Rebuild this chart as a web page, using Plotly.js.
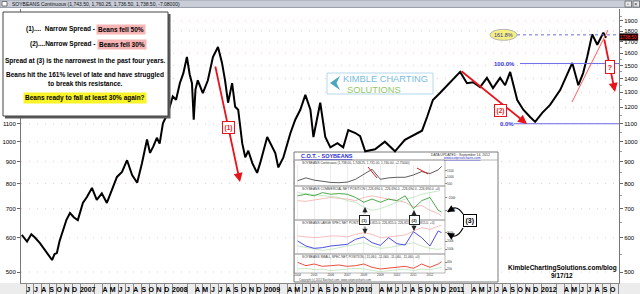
<!DOCTYPE html>
<html><head><meta charset="utf-8">
<script src="https://cdn.plot.ly/plotly-3.0.1.min.js"></script>
<style>html,body{margin:0;padding:0;background:#fff}#chart{width:640px;height:294px}</style>
</head><body><div id="chart"></div>
<script>
// ---------- DATA ----------
const priceDates = ['2006-05-15','2006-06-05','2006-06-22','2006-07-07','2006-07-26','2006-08-15','2006-09-04','2006-09-12','2006-09-22','2006-10-01','2006-10-12','2006-10-25','2006-11-08','2006-11-22','2006-12-08','2006-12-23',
'2007-01-12','2007-01-28','2007-02-17','2007-03-08','2007-03-28','2007-04-17','2007-05-07','2007-05-27','2007-06-16','2007-07-06','2007-07-26','2007-08-15','2007-09-03','2007-09-23','2007-10-05','2007-10-18','2007-11-01','2007-11-12','2007-11-25','2007-12-15',
'2008-01-03','2008-01-16','2008-01-31','2008-02-14','2008-02-28','2008-03-10','2008-03-19','2008-03-26','2008-04-02','2008-04-11','2008-05-01','2008-05-21','2008-06-10','2008-06-30','2008-07-16','2008-07-28','2008-08-09','2008-08-25','2008-09-06','2008-09-18','2008-10-04','2008-10-16','2008-10-28','2008-11-13','2008-12-02','2008-12-14',
'2009-01-11','2009-01-23','2009-02-12','2009-02-24','2009-03-16','2009-04-13','2009-05-02','2009-05-22','2009-06-11','2009-07-01','2009-07-13','2009-08-09','2009-08-29','2009-09-18','2009-10-16','2009-11-08','2009-11-28','2009-12-26',
'2010-01-14','2010-02-03','2010-03-14','2010-04-22','2010-06-01','2010-07-10','2010-08-19','2010-09-16','2010-10-06','2010-10-29','2010-11-26','2010-12-15',
'2011-01-05','2011-02-14','2011-03-13','2011-04-06','2011-05-04','2011-05-31','2011-06-24','2011-07-22','2011-08-11','2011-08-31','2011-09-28','2011-10-22','2011-11-18','2011-12-08',
'2012-01-05','2012-02-05','2012-03-16','2012-04-10','2012-05-03','2012-05-27','2012-06-15','2012-07-01','2012-07-21','2012-08-10','2012-09-03','2012-09-14'];
const priceClose = [609,588,611,600,583,560,541,533,550,553,590,625,660,684,668,659,
722,745,782,734,760,722,774,829,851,906,837,804,892,1012,942,975,1021,990,1103,1166,
1272,1250,1365,1440,1569,1430,1365,1124,1320,1386,1295,1386,1569,1655,1520,1386,1230,1365,1204,1185,992,920,953,892,847,892,
1025,992,941,872,920,1047,1124,1185,1283,1185,1025,1230,1025,970,992,970,1064,1047,
1030,950,960,1000,950,1010,1040,1060,1140,1248,1295,1330,
1372,1449,1365,1372,1336,1404,1330,1404,1350,1449,1248,1185,1140,1111,
1166,1216,1316,1420,1520,1350,1440,1569,1770,1674,1785,1738.5];

const monthLetters = ['J','F','M','A','M','J','J','A','S','O','N','D'];
const rightTicks = [500,600,700,800,900,1000,1100,1200,1300,1400,1500,1600,1700,1800,1900];
const leftTicks = [500,600,700,800,900,1000,1100];
const fibLevels = [1100, 1515, 1765];
const fibLabels = ['0.0%', '100.0%', '161.8%'];
const lastPriceLabel = '1738.50';

// C.O.T. inset (read approximately)
const cotYears = [2004.0,2004.5,2005.0,2005.5,2006.0,2006.5,2007.0,2007.5,2008.0,2008.5,2009.0,2009.5,2010.0,2010.5,2011.0,2011.5,2012.0,2012.5,2012.7];
const cotPrice = [720,940,764,676,588,566,610,830,1204,1600,830,940,984,984,1160,1424,1270,1556,1820];
const cotCommercial = [-175000,-150000,-175000,-125000,-150000,-140000,-150000,-200000,-275000,-225000,-275000,-225000,-250000,-175000,-375000,-250000,-200000,-400000,-425000];
const cotCommHigh = [-250000,-260000,-240000,-225000,-200000,-215000,-225000,-250000,-200000,-175000,-200000,-225000,-250000,-275000,-350000,-325000,-400000,-450000,-490000];
const cotCommLow = [-125000,-140000,-150000,-160000,-175000,-200000,-250000,-275000,-350000,-400000,-375000,-325000,-275000,-225000,-200000,-150000,-125000,-100000,-90000];
const cotLarge = [200000,140000,112000,120000,140000,148000,160000,220000,248000,180000,148000,240000,168000,152000,312000,240000,140000,320000,300000];
const cotLargeHigh = [260000,248000,240000,248000,260000,260000,248000,280000,300000,280000,240000,248000,260000,272000,320000,360000,340000,380000,392000];
const cotLargeLow = [140000,120000,100000,88000,100000,120000,140000,160000,180000,140000,112000,120000,140000,160000,180000,140000,112000,100000,112000];
const cotSmall = [40000,30000,35000,28000,30000,32000,28000,30000,35000,25000,20000,22000,25000,28000,22000,35000,25000,35000,42000];
const cotSmallBand = [20000,22000,18000,20000,15000,17000,20000,22000,20000,15000,12000,15000,18000,20000,15000,20000,18000,22000,25000];
const cotYearTicks = [2004,2005,2006,2007,2008,2009,2010,2011,2012];

// ---------- helpers ----------
const F = 'Liberation Sans, Arial, sans-serif';
const W = 640, H = 294, ML = 21, MR = 21, MT = 9, MB = 11;
const PW = W - ML - MR, PH = H - MT - MB;
const PX = x => (x - ML) / PW;
const PY = y => (H - MB - y) / PH;
const LLO = Math.log10(471.6), LHI = Math.log10(2025);
const PV = v => (Math.log10(v) - LLO) / (LHI - LLO);
const pad = n => (n < 10 ? '0' : '') + n;

// x-axis month labels and separators
const tv = [], tt = [], sep = [];
for (let y = 2006; y <= 2012; y++) {
  for (let m = 1; m <= 12; m++) {
    if (m !== 2) sep.push(`${y}-${pad(m)}-01`);
    if (m === 1) { tv.push(`${y}-01-31`); tt.push(String(y)); }
    else if (m === 2 || m === 3) { }
    else { tv.push(`${y}-${pad(m)}-10`); tt.push(monthLetters[m - 1]); }
  }
}
const minorY = [];
for (let v = 550; v <= 1950; v += 100) minorY.push(v);

// ---------- traces ----------
const traces = [
  {x: priceDates, y: priceClose, type: 'scatter', mode: 'lines', line: {color: '#000', width: 2}, xaxis: 'x', yaxis: 'y', hoverinfo: 'skip'},
  {x: [priceDates[0]], y: [priceClose[0]], type: 'scatter', mode: 'markers', marker: {opacity: 0}, xaxis: 'x', yaxis: 'y2', hoverinfo: 'skip'},
  {x: cotYears, y: cotPrice, type: 'scatter', mode: 'lines', line: {color: '#333', width: 0.8}, xaxis: 'x2', yaxis: 'y3', hoverinfo: 'skip'},
  {x: cotYears, y: cotCommHigh, type: 'scatter', mode: 'lines', line: {color: '#f4a0a0', width: 0.7}, xaxis: 'x2', yaxis: 'y4', hoverinfo: 'skip'},
  {x: cotYears, y: cotCommLow, type: 'scatter', mode: 'lines', line: {color: '#b0dcb0', width: 0.7}, xaxis: 'x2', yaxis: 'y4', hoverinfo: 'skip'},
  {x: cotYears, y: cotCommercial, type: 'scatter', mode: 'lines', line: {color: '#3aa03a', width: 0.9}, xaxis: 'x2', yaxis: 'y4', hoverinfo: 'skip'},
  {x: cotYears, y: cotLargeHigh, type: 'scatter', mode: 'lines', line: {color: '#f4a0a0', width: 0.7}, xaxis: 'x2', yaxis: 'y5', hoverinfo: 'skip'},
  {x: cotYears, y: cotLargeLow, type: 'scatter', mode: 'lines', line: {color: '#b0dcb0', width: 0.7}, xaxis: 'x2', yaxis: 'y5', hoverinfo: 'skip'},
  {x: cotYears, y: cotLarge, type: 'scatter', mode: 'lines', line: {color: '#3a3ae0', width: 0.9}, xaxis: 'x2', yaxis: 'y5', hoverinfo: 'skip'},
  {x: cotYears, y: cotSmallBand, type: 'scatter', mode: 'lines', line: {color: '#b0dcb0', width: 0.7}, xaxis: 'x2', yaxis: 'y6', hoverinfo: 'skip'},
  {x: cotYears, y: cotSmall, type: 'scatter', mode: 'lines', line: {color: '#e83a2a', width: 0.9}, xaxis: 'x2', yaxis: 'y6', hoverinfo: 'skip'}
];

// ---------- shapes ----------
const red = '#e8141c';
const rectPx = (x0, y0, x1, y1, o) => Object.assign({type: 'rect', xref: 'paper', yref: 'paper', x0: PX(x0), x1: PX(x1), y0: PY(y0), y1: PY(y1), layer: 'above', line: {width: 0}}, o);
const linePx = (x0, y0, x1, y1, o) => Object.assign({type: 'line', xref: 'paper', yref: 'paper', x0: PX(x0), x1: PX(x1), y0: PY(y0), y1: PY(y1), layer: 'above'}, o);

// faint dotted price grid (drawn underneath everything)
const gridShapes = rightTicks.map(v => ({type: 'line', xref: 'paper', yref: 'paper', x0: 0, x1: 1, y0: PV(v), y1: PV(v), layer: 'below',
  line: {color: '#f2c8c8', width: 1, dash: '1px,7px'}}));

const shapes = gridShapes.concat([
  // header bar
  rectPx(0, 0, 640, 7.5, {fillcolor: '#c8cdd8', line: {color: '#9aa0ac', width: 1}, layer: 'below'}),
  rectPx(2, 1.5, 7, 6, {fillcolor: '#fff', line: {color: '#555', width: 0.8}, layer: 'below'}),
  rectPx(625, 1, 631.5, 7, {fillcolor: '#e8e8e8', line: {color: '#666', width: 0.8}, layer: 'below'}),
  rectPx(633, 1, 639.5, 7, {fillcolor: '#e8e8e8', line: {color: '#666', width: 0.8}, layer: 'below'}),
  // bottom label strip
  rectPx(0, 283, 640, 294, {fillcolor: '#ececec', layer: 'below'}),
  // inset background (under the main price line, over the grid)
  rectPx(294, 152, 498, 282, {fillcolor: '#fff', line: {color: '#7a7a7a', width: 1}, layer: 'below'}),
  // text box shadow + box
  rectPx(5, 14, 170.5, 118.5, {fillcolor: '#5a5a5a'}),
  rectPx(3, 12, 168, 116, {fillcolor: '#fff', line: {color: '#444', width: 1}}),
  // Kimble logo
  rectPx(327, 73, 433, 94, {fillcolor: '#fff', line: {color: '#b4d8ec', width: 1}}),
  {type: 'path', xref: 'paper', yref: 'paper', layer: 'above', fillcolor: '#4aa6bc', line: {width: 0},
   path: `M ${PX(340)},${PY(76)} L ${PX(330)},${PY(83)} L ${PX(340)},${PY(90)} L ${PX(336.5)},${PY(83)} Z`},
  // fibonacci lines
  {type: 'line', xref: 'paper', yref: 'paper', x0: PX(517), x1: 1, y0: PV(fibLevels[2]), y1: PV(fibLevels[2]), layer: 'above', line: {color: '#6a6ae8', width: 1, dash: 'dot'}},
  {type: 'line', xref: 'paper', yref: 'paper', x0: PX(520), x1: 1, y0: PV(fibLevels[1]), y1: PV(fibLevels[1]), layer: 'above', line: {color: '#6a6ae8', width: 1}},
  {type: 'line', xref: 'paper', yref: 'paper', x0: PX(514), x1: 1, y0: PV(fibLevels[0]), y1: PV(fibLevels[0]), layer: 'above', line: {color: '#6a6ae8', width: 1}},
  {type: 'circle', xref: 'paper', yref: 'paper', x0: PX(490), x1: PX(517), y0: PV(fibLevels[2]) - 5.5 / PH, y1: PV(fibLevels[2]) + 5.5 / PH, layer: 'above', fillcolor: '#f6f080', line: {color: '#b4b4b4', width: 1}},
  // red trendline
  linePx(572, 102, 608, 30, {line: {color: '#ff5a5a', width: 1}}),
  // price marker box
  rectPx(619.5, 33.5, 638, 40.5, {fillcolor: '#1c0000', line: {color: '#555', width: 0.5}}),
  // inset title separator and panel frames
  linePx(294, 160, 498, 160, {line: {color: '#999', width: 0.7}}),
  rectPx(294.5, 160, 445, 186, {line: {color: '#999', width: 0.7}}),
  rectPx(294.5, 186, 445, 220, {line: {color: '#999', width: 0.7}}),
  rectPx(294.5, 220, 445, 254, {line: {color: '#999', width: 0.7}}),
  rectPx(294.5, 254, 445, 273, {line: {color: '#999', width: 0.7}}),
  // small red arrows in inset price panel
  linePx(368, 167, 377, 178, {line: {color: red, width: 1}}),
  linePx(417, 168, 428, 174, {line: {color: red, width: 1}}),
  // (3) curves
  {type: 'path', xref: 'paper', yref: 'paper', layer: 'above', line: {color: '#000', width: 1.2},
   path: `M ${PX(463)},${PY(214)} Q ${PX(456)},${PY(203)} ${PX(448)},${PY(212)}`},
  {type: 'path', xref: 'paper', yref: 'paper', layer: 'above', line: {color: '#000', width: 1.2},
   path: `M ${PX(463)},${PY(228)} Q ${PX(456)},${PY(241)} ${PX(448)},${PY(233)}`}
]);

// ---------- annotations ----------
const T = (x, y, text, o) => Object.assign({xref: 'paper', yref: 'paper', x: PX(x), y: PY(y), text, showarrow: false,
  xanchor: 'center', yanchor: 'middle', font: {family: F, size: 6.5, color: '#000'}}, o || {});
const ARW = (hx, hy, tx, ty, o) => Object.assign({xref: 'paper', yref: 'paper', x: PX(hx), y: PY(hy), ax: tx - hx, ay: ty - hy,
  axref: 'pixel', ayref: 'pixel', text: '', showarrow: true, arrowhead: 2, arrowsize: 1, arrowwidth: 1.8, arrowcolor: red, standoff: 0, startstandoff: 0}, o || {});
const BOX = (x, y, text, col, size) => T(x, y, '<b>' + text + '</b>', {font: {family: F, size: size, color: col}, bgcolor: '#fff', bordercolor: col, borderwidth: 1, borderpad: 1.5});

const annotations = [
  // header text
  T(10, 3.8, 'SOYBEANS Continuous (1,743.50, 1,760.25, 1,736.50, 1,738.50, -7.08000)', {xanchor: 'left', font: {family: F, size: 5, color: '#111'}}),
  T(628.2, 3.8, '▫', {font: {family: F, size: 5, color: '#333'}}),
  T(636.2, 3.8, '×', {font: {family: F, size: 6, color: '#333'}}),
  // text box
  T(96, 29, '<b>(1)....  Narrow Spread -</b>', {xanchor: 'right', borderpad: 0}),
  T(96, 29, '<b>Beans fell 50%</b>', {xanchor: 'left', bgcolor: '#f6b4b4', borderpad: 1}),
  T(96, 44.5, '<b>(2)....Narrow Spread -</b>', {xanchor: 'right', borderpad: 0}),
  T(97, 44.5, '<b>Beans fell 30%</b>', {xanchor: 'left', bgcolor: '#f6b4b4', borderpad: 1}),
  T(85, 61, '<b>Spread at (3) is the narrowest in the past four years.</b>'),
  T(85, 75, '<b>Beans hit the 161% level of late and have struggled</b>'),
  T(85, 83.5, '<b>to break this resistance.</b>'),
  T(85, 98.5, '<b>Beans ready to fall at least 30% again?</b>', {bgcolor: '#f8f428', borderpad: 1}),
  // Kimble logo
  T(341, 79.2, 'KIMBLE CHARTING', {xanchor: 'left', font: {family: F, size: 9.3, color: '#78bcdc'}}),
  T(345, 89.6, 'SOLUTIONS', {xanchor: 'left', font: {family: F, size: 9.3, color: '#90c868'}}),
  // fib labels
  T(503.5, 34.5, fibLabels[2], {y: PV(fibLevels[2]), font: {family: F, size: 5.5, color: '#303090'}}),
  T(504, 0, '<b>' + fibLabels[1] + '</b>', {y: PV(fibLevels[1]), font: {family: F, size: 6, color: '#3434d8'}}),
  T(507, 0, '<b>' + fibLabels[0] + '</b>', {y: PV(fibLevels[0]), font: {family: F, size: 6, color: '#3434d8'}}),
  // red arrows
  ARW(240, 182, 215, 65),
  ARW(527, 124, 460, 70),
  ARW(615, 92, 604, 38),
  BOX(228, 127, '(1)', red, 6.5),
  BOX(500, 110, '(2)', red, 6.5),
  BOX(610, 67, '?', red, 7.5),
  // price marker
  T(628.7, 37, lastPriceLabel, {font: {family: F, size: 4.6, color: '#ff3a3a'}}),
  // bottom right text
  T(562, 268, '<b>KimbleChartingSolutions.com/blog</b>', {font: {family: F, size: 6.5, color: '#000'}}),
  T(562, 275.5, '<b>9/17/12</b>', {font: {family: F, size: 6.5, color: '#000'}}),
  // inset texts
  T(299, 156.5, '<b><u>C.O.T. - SOYBEANS</u></b>', {xanchor: 'left', font: {family: F, size: 5.5, color: '#2a2ad0'}}),
  T(460, 154.5, 'DATA UPDATED : September 14, 2012', {font: {family: F, size: 3.4, color: '#333'}}),
  T(462, 158.2, '<u>www.cotpricecharts.com</u>', {font: {family: F, size: 3.4, color: '#2a2ad0'}}),
  T(300, 163, 'SOYBEANS Continuous (1,738.00, 1,748.25, 1,731.00, 1,740.00, +2.75000)', {xanchor: 'left', font: {family: F, size: 3.2, color: '#333'}}),
  T(300, 189, 'SOYBEANS COMMERCIAL NET POSITION (-226,694.0, -226,694.0, -226,694.0, -226,694.0, +0)', {xanchor: 'left', font: {family: F, size: 3.2, color: '#333'}}),
  T(300, 223, 'SOYBEANS LARGE SPEC NET POSITION (226,815.0, 226,815.0, 226,815.0, 226,815.0, +0)', {xanchor: 'left', font: {family: F, size: 3.2, color: '#333'}}),
  T(300, 257, 'SOYBEANS SMALL SPEC NET POSITION (-11,060, -11,060, -11,060, -11,060, +0)', {xanchor: 'left', font: {family: F, size: 3.2, color: '#333'}}),
  T(297, 280, 'Copyright (c) 2012 Barchart.com, www.cotpricecharts.com', {xanchor: 'left', font: {family: F, size: 2.8, color: '#444'}}),
  // inset (1),(2) markers
  ARW(365, 207, 365, 215, {arrowwidth: 0.8, arrowcolor: '#222', arrowsize: 1.3}),
  ARW(365, 234, 365, 225, {arrowwidth: 0.8, arrowcolor: '#222', arrowsize: 1.3}),
  ARW(414, 210, 414, 215, {arrowwidth: 0.8, arrowcolor: '#222', arrowsize: 1.3}),
  ARW(414, 231, 414, 224, {arrowwidth: 0.8, arrowcolor: '#222', arrowsize: 1.3}),
  BOX(365, 220, '(1)', '#222', 4.2),
  BOX(414, 219.5, '(2)', '#222', 4.2),
  // (3)
  ARW(447, 212, 452, 209, {arrowwidth: 1.2, arrowcolor: '#000', arrowsize: 1.2}),
  ARW(447, 233, 452, 236, {arrowwidth: 1.2, arrowcolor: '#000', arrowsize: 1.2}),
  BOX(470, 220.5, '(3)', '#000', 7)
];

// ---------- layout ----------
const tickFont = {family: F, size: 6, color: '#000'};
const insetX = [PX(296), PX(444)];
const smallAxis = (dom, rng, o) => Object.assign({domain: [PY(dom[1]), PY(dom[0])], anchor: 'x2', side: 'right', range: rng,
  showgrid: false, zeroline: false, showline: false, ticks: 'outside', ticklen: 1.5, tickcolor: '#888', nticks: 4,
  tickfont: {family: F, size: 3, color: '#333'}, automargin: false, fixedrange: true}, o || {});

const layout = {
  width: W, height: H,
  margin: {l: ML, r: MR, t: MT, b: MB, pad: 0},
  paper_bgcolor: '#fff', plot_bgcolor: 'rgba(0,0,0,0)',
  showlegend: false,
  font: {family: F},
  xaxis: {type: 'date', domain: [0, 1], anchor: 'y', range: ['2006-05-12', '2012-11-04'],
    tickmode: 'array', tickvals: tv, ticktext: tt, tickangle: 0, ticks: '', showgrid: false, zeroline: false,
    tickfont: {family: F, size: 7, color: '#000', weight: 'bold'}, showline: true, linecolor: '#888', linewidth: 1,
    minor: {tickmode: 'array', tickvals: sep, ticks: 'outside', ticklen: 11, tickcolor: '#8a8a8a', tickwidth: 1, showgrid: false},
    automargin: false, fixedrange: true},
  yaxis: {type: 'log', range: [LLO, LHI], side: 'right', anchor: 'x', tickmode: 'array', tickvals: rightTicks, ticktext: rightTicks.map(String),
    ticks: 'outside', ticklen: 3, tickcolor: '#666', tickfont: tickFont, showline: true, linecolor: '#777', linewidth: 1,
    showgrid: false, zeroline: false,
    minor: {tickmode: 'array', tickvals: minorY, ticks: 'outside', ticklen: 2, tickcolor: '#999', showgrid: false},
    automargin: false, fixedrange: true},
  yaxis2: {type: 'log', range: [LLO, LHI], overlaying: 'y', side: 'left', anchor: 'x', tickmode: 'array', tickvals: leftTicks, ticktext: leftTicks.map(String),
    ticks: 'outside', ticklen: 3, tickcolor: '#666', tickfont: tickFont, showline: true, linecolor: '#777', linewidth: 1,
    showgrid: false, zeroline: false, automargin: false, fixedrange: true},
  xaxis2: {domain: insetX, anchor: 'y6', range: [2003.9, 2012.85], tickmode: 'array', tickvals: cotYearTicks, ticktext: cotYearTicks.map(String),
    ticks: '', showgrid: true, gridcolor: '#ececec', zeroline: false, showline: false, tickfont: {family: F, size: 3, color: '#333'}, automargin: false, fixedrange: true},
  yaxis3: smallAxis([165, 185], [390, 1930]),
  yaxis4: smallAxis([191, 219], [-535000, -100000]),
  yaxis5: smallAxis([225, 253], [56000, 392000]),
  yaxis6: smallAxis([257, 272], [11000, 56000]),
  shapes, annotations
};

Plotly.newPlot('chart', traces, layout, {staticPlot: true, displayModeBar: false});
</script></body></html>
